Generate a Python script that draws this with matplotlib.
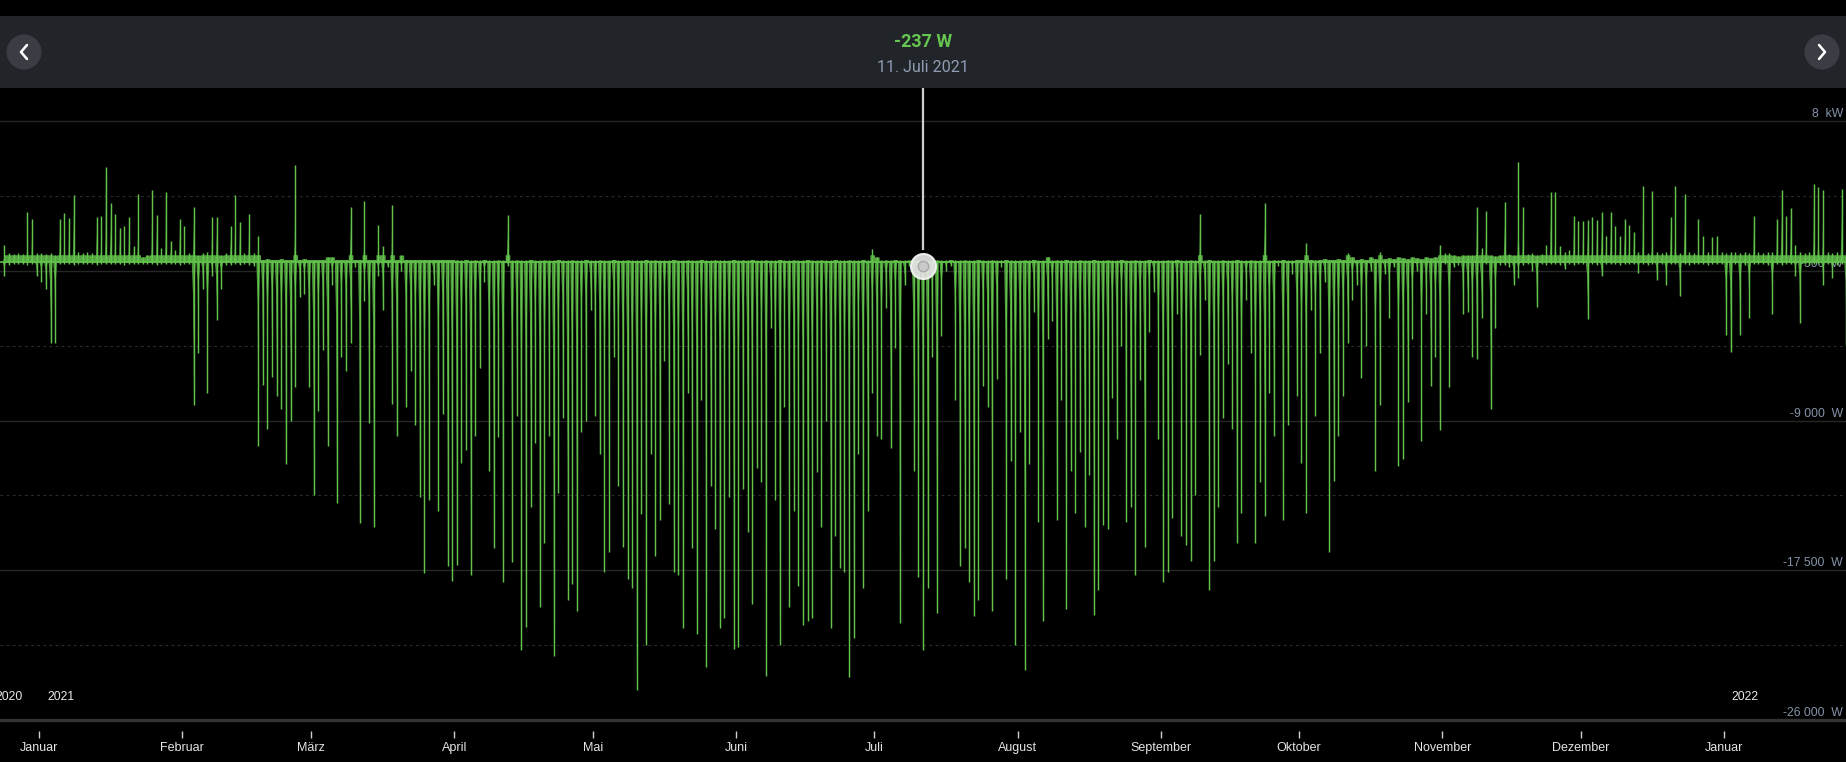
import numpy as np
import pandas as pd
import matplotlib
matplotlib.use("Agg")
import matplotlib.pyplot as plt
import matplotlib.dates as mdates
from matplotlib.collections import PolyCollection
from matplotlib.patches import Rectangle, Circle

# ---------------- data (W), one value per day ----------------
# daily minimum (feed-in peak, negative) and daily maximum (consumption peak)
dec20_min = [-800, -150, -100, -120, -100, -150, -100, -800]
dec20_max = [1000, 500, 450, 500, 450, 2850, 2440, 500]

jan21_min = [-1100, -1500, -4570, -4570, -100, -120, -100, -150, -100, -100, -120,
             -100, -150, -100, -100, -120, -100, -100, -150, -100, -100, -120,
             -100, -100, -100, -150, -100, -120, -100, -100, -150]
jan21_max = [500, 450, 500, 400, 2440, 2790, 2480, 3820, 600, 500, 550, 500, 2540,
             2640, 5390, 3350, 2740, 1930, 2030, 2540, 900, 3860, 300, 400, 4070,
             2680, 800, 4000, 1200, 700, 2440]

feb21_min = [-100, -100, -8130, -5180, -1500, -7410, -800, -3310, -1500, -150, -150,
             -100, -150, -100, -150, -200, -10460, -7000, -9450, -6500, -7620, -8330,
             -11440, -9040, -7110, -2000, -1800, -7110]
feb21_max = [2030, 500, 3150, 400, 500, 600, 2540, 2540, 400, 500, 2030, 3820, 2300,
             500, 2740, 500, 1500, 150, 200, 150, 150, 200, 150, 150, 5490, 150, 200, 150]

mar21_min = [-13210, -8430, -5000, -10460, -1300, -13680, -5400, -6200, -4600, -300,
             -14840, -2200, -9140, -15040, -800, -2700, -300, -8030, -9850, -500,
             -8230, -6200, -9240, -13310, -17680, -13510, -1300, -14120, -8640,
             -17280, -18090]
mar21_max = [150, 150, 150, 300, 300, 150, 150, 150, 3150, 150, 150, 3500, 150, 150,
             2130, 900, 150, 3250, 150, 400, 150, 150, 150, 150, 150, 150, 150, 150,
             150, 150, 150]

apr21_min = [-17170, -11380, -10670, -17780, -9850, -6000, -1100, -11880, -16260,
             -9950, -18190, -200, -17000, -8730, -22050, -20700, -13900, -10260,
             -19600, -15950, -9850, -22370, -13110, -8840, -19200, -18290, -19810,
             -9650, -9040, -2740]
apr21_max = [120, 100, 150, 100, 120, 100, 150, 100, 100, 120, 100, 2680, 100, 120,
             100, 100, 150, 100, 100, 120, 100, 100, 150, 100, 100, 120, 100, 100,
             150, 100]

may21_min = [-8730, -10870, -17580, -16460, -5380, -12700, -16160, -17990, -18490,
             -24300, -14320, -21740, -10870, -16660, -14630, -5590, -13710, -17580,
             -17780, -20800, -7410, -16260, -21110, -7820, -22980, -12700, -15140,
             -20800, -20190, -13310, -21950]
may21_max = [100, 120, 100, 100, 150, 100, 100, 120, 100, 100, 100, 150, 100, 120,
             100, 100, 100, 150, 100, 100, 120, 100, 100, 150, 100, 100, 120, 100,
             100, 100, 150]

jun21_min = [-21850, -12910, -15350, -19410, -11680, -12500, -23480, -3750, -13510,
             -21740, -8230, -19610, -14120, -18390, -20600, -20400, -20190, -11890,
             -15040, -9040, -20800, -15550, -17370, -17580, -23580, -21330, -10870,
             -18490, -14120, -7410]
jun21_max = [100, 120, 100, 150, 100, 100, 120, 100, 100, 150, 100, 100, 120, 100,
             100, 150, 100, 100, 120, 100, 100, 150, 100, 100, 120, 100, 100, 150,
             100, 750]

jul21_min = [-9850, -10060, -2630, -10570, -4880, -20500, -1310, -200, -11880, -17880,
             -22050, -18490, -5380, -19910, -4170, -500, -200, -7820, -17270, -16260,
             -18190, -20120, -19200, -7010, -8230, -19810, -6610, -300, -17990,
             -11280, -21740]
jul21_max = [300, 100, 120, 100, 150, 100, 100, 120, 100, 100, 150, 100, 100, 120,
             100, 100, 150, 100, 100, 120, 100, 100, 150, 100, 100, 120, 100, 100,
             150, 100, 100]

aug21_min = [-9650, -23180, -11480, -2840, -14730, -20400, -4370, -3350, -14630,
             -7820, -19710, -11880, -14220, -10770, -15040, -12090, -20010, -18590,
             -14940, -15140, -7720, -10060, -4780, -14730, -13910, -17780, -6700,
             -16160, -3960, -1720, -10060]
aug21_max = [100, 120, 100, 150, 100, 100, 300, 100, 120, 100, 150, 100, 100, 120,
             100, 100, 150, 100, 100, 120, 100, 100, 150, 100, 100, 120, 100, 100,
             150, 100, 100]

sep21_min = [-18190, -17580, -14530, -2940, -15550, -16060, -16970, -13210, -5280,
             -2130, -18590, -16970, -13910, -8840, -5790, -9450, -15950, -14220,
             -2130, -5180, -15950, -12500, -14430, -7410, -9850, -200, -14630,
             -9240, -700, -7620]
sep21_max = [100, 120, 100, 150, 100, 100, 120, 100, 2740, 100, 150, 100, 100, 120,
             100, 100, 150, 100, 100, 120, 100, 100, 3350, 100, 120, 100, 150, 100,
             100, 150]

oct21_min = [-11380, -14220, -2740, -8730, -5180, -1110, -16460, -12400, -9850,
             -7620, -4570, -2130, -1310, -6600, -4780, -500, -11880, -8130, -700,
             -3150, -300, -11580, -11180, -7920, -4370, -500, -10160, -2950, -7010,
             -5380, -9550]
oct21_max = [150, 1100, 150, 120, 150, 200, 150, 150, 200, 150, 500, 300, 150, 200,
             150, 300, 200, 570, 200, 250, 200, 300, 250, 200, 300, 250, 200, 300,
             250, 300, 1000]

nov21_min = [-100, -7110, -300, -150, -2950, -2850, -5380, -5490, -3150, -100, -8330,
             -3750, -150, -150, -300, -1300, -900, -150, -100, -500, -2540, -100,
             -150, -100, -100, -150, -400, -100, -150, -100]
nov21_max = [500, 500, 400, 350, 400, 400, 400, 3150, 800, 2900, 400, 350, 400, 3400,
             450, 400, 5690, 3150, 450, 500, 400, 450, 1000, 3960, 4000, 900, 600,
             700, 2640, 2340]

dec21_min = [-100, -3250, -100, -150, -800, -100, -120, -100, -150, -100, -100, -120,
             -600, -100, -150, -100, -1000, -100, -1300, -120, -100, -1930, -100,
             -150, -100, -120, -100, -150, -100, -100, -120]
dec21_max = [2340, 2400, 2540, 2400, 2850, 1500, 2850, 2030, 1500, 2440, 2130, 1730,
             600, 4310, 500, 4030, 600, 500, 600, 2580, 4330, 500, 3860, 600, 500,
             2440, 1500, 600, 1400, 1500, 600]

jan22_min = [-4160, -5080, -100, -4160, -150, -3150, -100, -120, -100, -150, -2950,
             -100, -150, -100, -120, -800, -3450, -100, -150, -100, -120, -1300,
             -100, -900, -150, -100, -4780]
jan22_max = [500, 600, 550, 500, 600, 500, 2640, 600, 500, 550, 600, 2440, 4070, 2640,
             3050, 1000, 600, 500, 550, 4430, 4270, 4070, 600, 500, 550, 4170, 600]

first_day = "2020-12-24"
month_starts = ["2021-01-01", "2021-02-01", "2021-03-01", "2021-04-01", "2021-05-01",
                "2021-06-01", "2021-07-01", "2021-08-01", "2021-09-01", "2021-10-01",
                "2021-11-01", "2021-12-01", "2022-01-01"]
month_labels = ["Januar", "Februar", "März", "April", "Mai", "Juni", "Juli",
                "August", "September", "Oktober", "November", "Dezember", "Januar"]
y_ticks = [8000, -500, -9000, -17500, -26000]
y_labels = ["8  kW", "-500  W", "-9 000  W", "-17 500  W", "-26 000  W"]
y_mid = [3750, -4750, -13250, -21750]

cursor_time = "2021-07-11 14:00"
cursor_value = -237
cursor_date_text = "11. Juli 2021"

# ---------------- assemble ----------------
daily_min = np.array(dec20_min + jan21_min + feb21_min + mar21_min + apr21_min +
                     may21_min + jun21_min + jul21_min + aug21_min + sep21_min +
                     oct21_min + nov21_min + dec21_min + jan22_min, dtype=float)
daily_max = np.array(dec20_max + jan21_max + feb21_max + mar21_max + apr21_max +
                     may21_max + jun21_max + jul21_max + aug21_max + sep21_max +
                     oct21_max + nov21_max + dec21_max + jan22_max, dtype=float)

days = pd.date_range(first_day, periods=len(daily_min), freq="D")
x = mdates.date2num((days + pd.Timedelta(hours=12)).to_pydatetime())

W, H = 1846, 762
GREEN = "#62c24c"
LABEL = "#8493a8"
plt.rcParams["font.family"] = ["Liberation Sans", "DejaVu Sans"]

fig = plt.figure(figsize=(W / 100, H / 100), dpi=100, facecolor="black")
ax = fig.add_axes([0, 42 / H, 1, 632 / H])
ax.set_facecolor("black")

x_jan = mdates.date2num(pd.Timestamp("2021-01-01").to_pydatetime())
px_day = 4.616
YTOP = 9889
ax.set_xlim(x_jan - 39 / px_day, x_jan + (W - 39) / px_day)
ax.set_ylim(-26000, YTOP)

# grid
for v in y_ticks[:-1]:
    ax.axhline(v, color="#262626", lw=1.0, zorder=0)
for v in y_mid:
    ax.axhline(v, color="#2c2c2c", lw=0.8, ls=(0, (2.5, 3)), zorder=0)
ax.axhline(y_ticks[-1], color="#333333", lw=2.4, zorder=0, clip_on=False)

# y labels
for v, lab in zip(y_ticks, y_labels):
    ax.annotate(lab, xy=(1.0, v), xycoords=("axes fraction", "data"),
                xytext=(-3, 4), textcoords="offset pixels", ha="right",
                va="baseline", color=LABEL, fontsize=8.8, zorder=1)

# spikes: narrow needles with a wider base, one per day
def needle(xi, v, hw):
    return [(xi - hw, 0), (xi - hw * 0.35, 0.22 * v), (xi - hw * 0.08, 0.6 * v),
            (xi, v), (xi + hw * 0.08, 0.6 * v), (xi + hw * 0.35, 0.22 * v),
            (xi + hw, 0)]

neg = [needle(xi, v, 0.42) for xi, v in zip(x, daily_min)]
ax.add_collection(PolyCollection(neg, facecolor=GREEN, edgecolor="none",
                                 alpha=0.78, zorder=3))
ax.vlines(x, daily_min, 0, color=GREEN, lw=1.05, zorder=4)
pos = [needle(xi, v, 0.28) for xi, v in zip(x, daily_max)]
ax.add_collection(PolyCollection(pos, facecolor=GREEN, edgecolor="none",
                                 alpha=0.78, zorder=3))
ax.vlines(x, 0, daily_max, color=GREEN, lw=1.05, zorder=4)
ax.fill_between(x, 0, np.minimum(daily_max, 420), step="mid", color=GREEN,
                alpha=0.85, lw=0, zorder=3)
ax.axhline(0, color=GREEN, lw=1.2, zorder=4)

# x axis
ms = mdates.date2num(pd.to_datetime(month_starts).to_pydatetime())
ax.set_xticks(ms)
ax.set_xticklabels(month_labels)
ax.set_yticks([])
for s in ax.spines.values():
    s.set_visible(False)
ax.spines["bottom"].set_position(("outward", 8))
ax.tick_params(axis="x", colors="#cfcfcf", labelcolor="#e4e4e4", length=5,
               width=1.0, pad=3, labelsize=9, direction="out")

# year labels
for yr, dstr in [("2021", "2021-01-01"), ("2022", "2022-01-01")]:
    xd = mdates.date2num(pd.Timestamp(dstr).to_pydatetime())
    ax.annotate(yr, xy=(xd, -26000), xytext=(8, 23), textcoords="offset pixels",
                ha="left", va="center", color="#e8e8e8", fontsize=8.7, zorder=5)
fig.text(23 / W, 1 - 697 / H, "2020", ha="right", va="center", color="#e8e8e8",
         fontsize=8.7)

# cursor
cx = mdates.date2num(pd.Timestamp(cursor_time).to_pydatetime())
ax.plot([cx, cx], [cursor_value + 900, YTOP], color="#cfcfcf", lw=1.6, zorder=6,
        solid_capstyle="butt")
ax.plot(cx, cursor_value, "o", ms=18, mfc="#e6e6e6", mec="#f5f5f5", mew=1.5,
        alpha=0.92, zorder=7)
ax.plot(cx, cursor_value, "o", ms=7.5, mfc="#c9c9c9", mec="#a8a8a8", mew=1.0,
        zorder=8)

# header overlay
ov = fig.add_axes([0, 0, 1, 1], zorder=10)
ov.set_xlim(0, W)
ov.set_ylim(H, 0)
ov.axis("off")
ov.patch.set_alpha(0)
ov.add_patch(Rectangle((0, 16), W, 72, color="#212428", lw=0))
for bx, sgn in [(24, 1), (1822, -1)]:
    ov.add_patch(Circle((bx, 52), 17.5, color="#3a3e44", lw=0))
    ov.plot([bx + 3 * sgn, bx - 3 * sgn, bx + 3 * sgn], [45, 52, 59],
            color="white", lw=1.8, solid_capstyle="round", solid_joinstyle="round")

cx_px = ax.transData.transform((cx, 0))[0]
ov.text(cx_px, 42, f"{cursor_value} W", ha="center", va="center", color="#66c64f",
        fontsize=13, fontweight="bold", family=["Roboto", "DejaVu Sans"])
ov.text(cx_px, 68, cursor_date_text, ha="center", va="center", color="#8f9eb3",
        fontsize=11.5, family=["Roboto", "DejaVu Sans"])

fig.savefig("out.png", dpi=100, facecolor="black")
